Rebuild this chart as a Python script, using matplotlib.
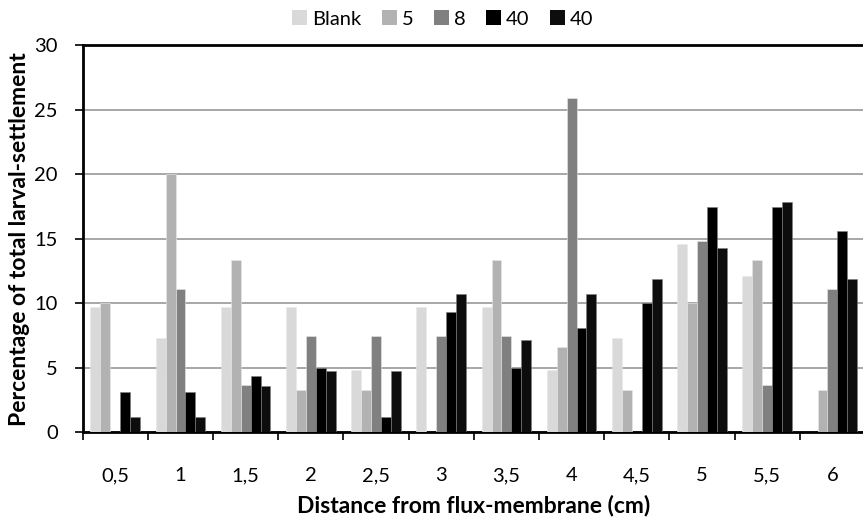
import matplotlib
matplotlib.use("Agg")
import matplotlib.pyplot as plt
import numpy as np
from matplotlib.patches import Patch

categories = ["0,5", "1", "1,5", "2", "2,5", "3", "3,5", "4", "4,5", "5", "5,5", "6"]
series_names = ["Blank", "5", "8", "40", "40"]
blank = [9.74, 7.29, 9.74, 9.74, 4.83, 9.74, 9.74, 4.83, 7.29, 14.6, 12.14, 0]
s5 = [10.0, 20.0, 13.33, 3.31, 3.31, 0, 13.33, 6.64, 3.31, 10.0, 13.33, 3.31]
s8 = [0, 11.11, 3.70, 7.42, 7.42, 7.42, 7.42, 25.9, 0, 14.8, 3.70, 11.11]
s40a = [3.13, 3.13, 4.37, 4.99, 1.21, 9.35, 4.99, 8.11, 10.0, 17.44, 17.44, 15.58]
s40b = [1.19, 1.19, 3.57, 4.73, 4.73, 10.7, 7.13, 10.7, 11.89, 14.26, 17.83, 11.89]
colors = ["#D9D9D9", "#B2B2B2", "#808080", "#000000", "#0D0D0D"]

plt.rcParams['font.family'] = ['Lato', 'DejaVu Sans']

fig = plt.figure(figsize=(8.63, 5.2), dpi=100)
ax = fig.add_axes([0.0958, 0.1687, 0.9065, 0.7448])

data = [blank, s5, s8, s40a, s40b]
x = np.arange(len(categories))
w = 0.152
for i, (vals, c) in enumerate(zip(data, colors)):
    ax.bar(x + (i - 2) * w, vals, width=w, color=c, edgecolor="#E8E8E8" if i < 3 else "#7F7F7F",
           linewidth=0.4, zorder=3)

ax.set_xlim(-0.5, len(categories) - 0.5)
ax.set_ylim(0, 30)
ax.set_yticks(np.arange(0, 31, 5))
ax.set_xticks(x)
ax.set_xticklabels(categories, fontsize=14.5)
ax.set_xticks(np.arange(-0.5, len(categories), 1), minor=True)
ax.tick_params(axis='x', which='major', length=0, pad=25)
ax.tick_params(axis='x', which='minor', length=6, width=1.2, direction='out')
ax.tick_params(axis='y', length=6, width=1.2, direction='out', labelsize=14.5, pad=12)

ax.yaxis.grid(True, color="#A0A0A0", linewidth=1.3, zorder=0)
ax.set_axisbelow(True)
for side in ['left', 'bottom', 'top']:
    ax.spines[side].set_linewidth(2.0)
    ax.spines[side].set_color('black')
ax.spines['right'].set_visible(False)

ax.set_xlabel("Distance from flux-membrane (cm)", fontsize=16.5, fontweight='bold', labelpad=8)
ax.set_ylabel("Percentage of total larval-settlement", fontsize=16.5, fontweight='bold', labelpad=3)

handles = [Patch(facecolor=c, edgecolor='none') for c in colors]
fig.legend(handles, series_names, loc='upper center', bbox_to_anchor=(0.513, 1.015), ncol=5,
           frameon=False, fontsize=14.5, handlelength=0.75, handleheight=0.75,
           handletextpad=0.25, columnspacing=1.0)

fig.savefig("out.png", dpi=100)
